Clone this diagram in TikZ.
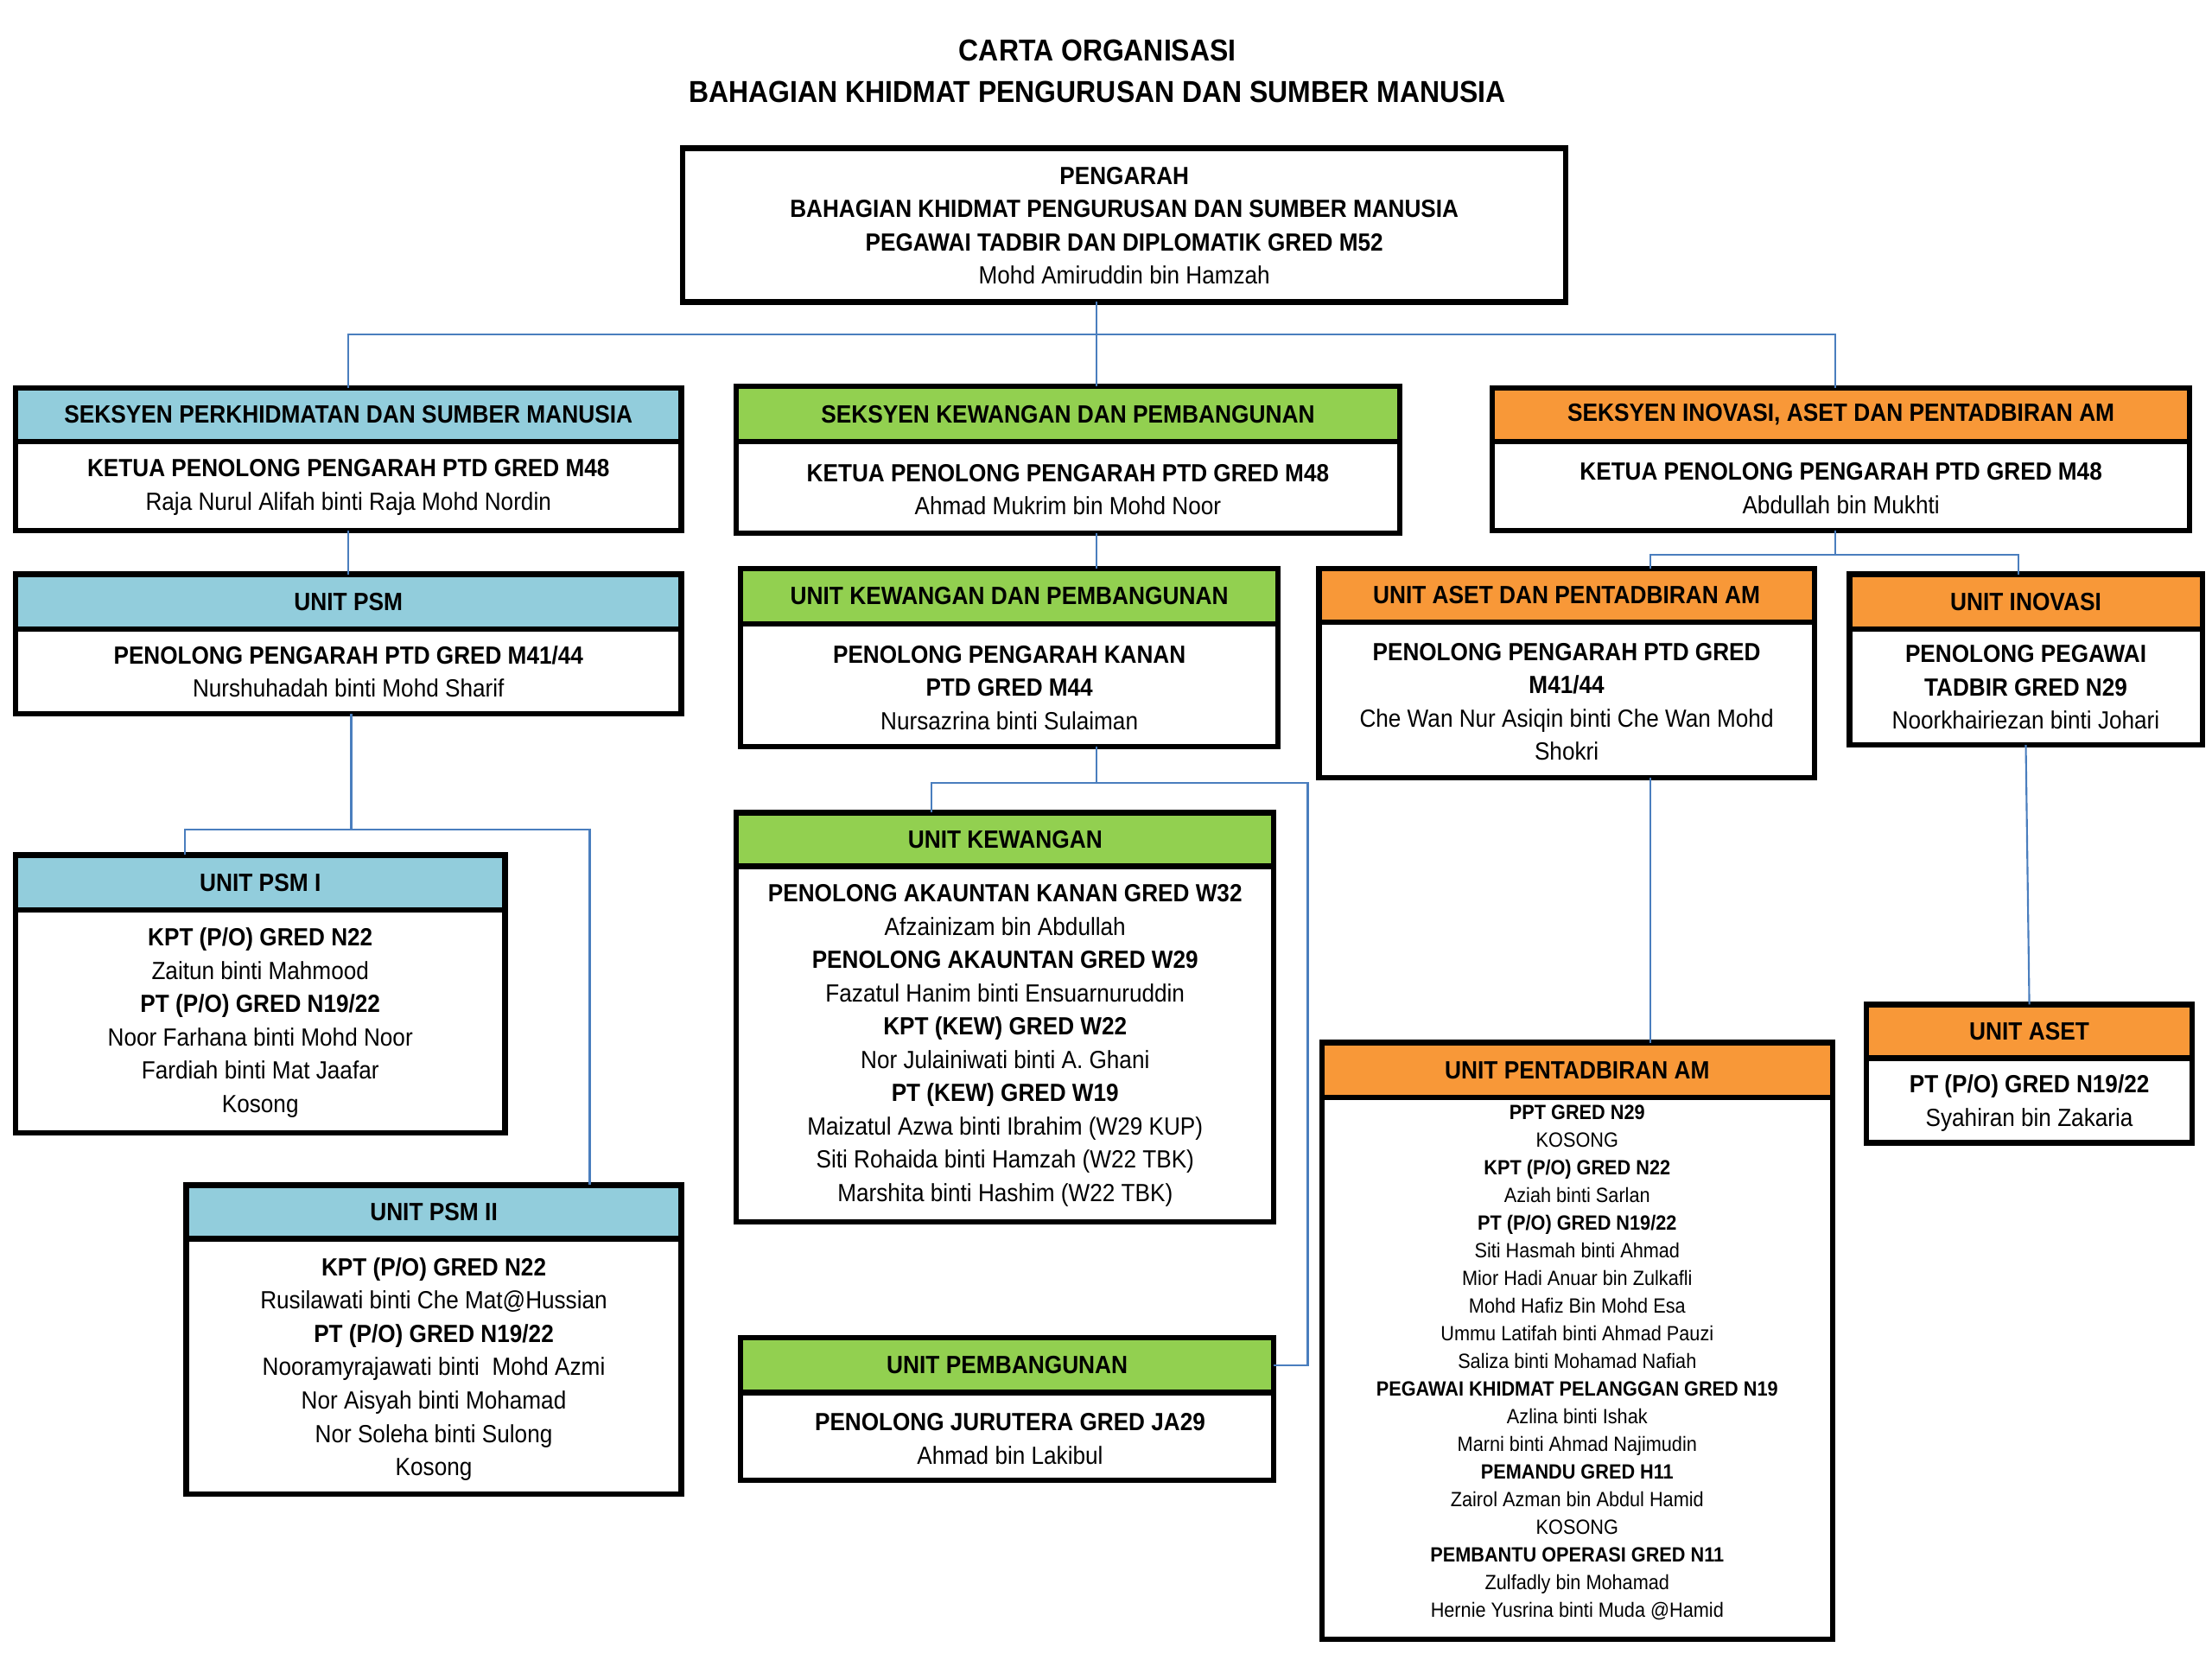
\documentclass[tikz,border=0pt]{standalone}
\usepackage{fontspec}
\setmainfont{Liberation Sans}[FakeStretch=0.91]
\begin{document}
\begin{tikzpicture}[x=1pt,y=-1pt,
  frame/.style={draw=black,line width=3.8pt,rectangle,inner sep=0pt,outer sep=0pt},
  sepline/.style={draw=black,line width=3.8pt},
  headtxt/.style={inner sep=0pt,font=\fontsize{17.7}{22}\selectfont\bfseries},
  bodytxt/.style={inner sep=0pt,align=center,font=\fontsize{17.6}{23.6}\selectfont},
  smalltxt/.style={inner sep=0pt,align=center,font=\fontsize{14.6}{19.6}\selectfont},
  conn/.style={draw=connblue,line width=1.3pt}]
\definecolor{connblue}{RGB}{74,126,190}
\definecolor{hblue}{RGB}{146,205,220}
\definecolor{hgreen}{RGB}{146,208,80}
\definecolor{horange}{RGB}{248,152,56}
\newcommand{\orgbox}[8]{%
  \fill[#7] (#2,#3) rectangle (#4,#6);
  \draw[sepline] (#2,#6) -- (#4,#6);
  \node[frame,minimum width={(#4-#2-2)*1pt},minimum height={(#5-#3-2)*1pt},anchor=center] (#1) at ({(#2+#4)/2},{(#3+#5)/2}) {};
  \node[headtxt] (#1-h) at ({(#2+#4)/2},{(#3+#6)/2+0.5}) {#8};
}
\useasboundingbox (0,0) rectangle (1568,1176);

% title
\node[align=center,inner sep=0pt,font=\fontsize{21.5}{29}\selectfont\bfseries] (title) at (778,50.5)
  {CARTA ORGANISASI\\BAHAGIAN KHIDMAT PENGURUSAN DAN SUMBER MANUSIA};

% top box
\node[frame,minimum width=626pt,minimum height=109pt,anchor=center] (top) at (797,159.5) {};
\node[bodytxt] (top-b) at (797,160) {\textbf{PENGARAH}\\\textbf{BAHAGIAN KHIDMAT PENGURUSAN DAN SUMBER MANUSIA}\\\textbf{PEGAWAI TADBIR DAN DIPLOMATIK GRED M52}\\Mohd Amiruddin bin Hamzah};

% sections
\orgbox{s1}{10}{274}{484}{377}{313}{hblue}{SEKSYEN PERKHIDMATAN DAN SUMBER MANUSIA}
\node[bodytxt] (s1-b) at (247,345.5) {\textbf{KETUA PENOLONG PENGARAH PTD GRED M48}\\Raja Nurul Alifah binti Raja Mohd Nordin};

\orgbox{s2}{521}{273}{993}{379}{313}{hgreen}{SEKSYEN KEWANGAN DAN PEMBANGUNAN}
\node[bodytxt] (s2-b) at (757,347) {\textbf{KETUA PENOLONG PENGARAH PTD GRED M48}\\Ahmad Mukrim bin Mohd Noor};

\orgbox{s3}{1057}{274}{1553}{377}{313}{horange}{SEKSYEN INOVASI, ASET DAN PENTADBIRAN AM}
\node[bodytxt] (s3-b) at (1305,346) {\textbf{KETUA PENOLONG PENGARAH PTD GRED M48}\\Abdullah bin Mukhti};

% units
\orgbox{psm}{10}{406}{484}{507}{446}{hblue}{UNIT PSM}
\node[bodytxt] (psm-b) at (247,476) {\textbf{PENOLONG PENGARAH PTD GRED M41/44}\\Nurshuhadah binti Mohd Sharif};

\orgbox{psmi}{10}{605}{359}{804}{645}{hblue}{UNIT PSM I}
\node[bodytxt] (psmi-b) at (184.5,725) {\textbf{KPT (P/O) GRED N22}\\Zaitun binti Mahmood\\\textbf{PT (P/O) GRED N19/22}\\Noor Farhana binti Mohd Noor\\Fardiah binti Mat Jaafar\\Kosong};

\orgbox{psmii}{131}{839}{484}{1060}{878}{hblue}{UNIT PSM II}
\node[bodytxt] (psmii-b) at (307.5,970.5) {\textbf{KPT (P/O) GRED N22}\\Rusilawati binti Che Mat@Hussian\\\textbf{PT (P/O) GRED N19/22}\\Nooramyrajawati binti\ \ Mohd Azmi\\Nor Aisyah binti Mohamad\\Nor Soleha binti Sulong\\Kosong};

\orgbox{ukp}{524}{402}{907}{530}{442}{hgreen}{UNIT KEWANGAN DAN PEMBANGUNAN}
\node[bodytxt] (ukp-b) at (715.5,487.5) {\textbf{PENOLONG PENGARAH KANAN}\\\textbf{PTD GRED M44}\\Nursazrina binti Sulaiman};

\orgbox{uk}{521}{575}{904}{867}{614}{hgreen}{UNIT KEWANGAN}
\node[bodytxt] (uk-b) at (712.5,741) {\textbf{PENOLONG AKAUNTAN KANAN GRED W32}\\Afzainizam bin Abdullah\\\textbf{PENOLONG AKAUNTAN GRED W29}\\Fazatul Hanim binti Ensuarnuruddin\\\textbf{KPT (KEW) GRED W22}\\Nor Julainiwati binti A. Ghani\\\textbf{PT (KEW) GRED W19}\\Maizatul Azwa binti Ibrahim (W29 KUP)\\Siti Rohaida binti Hamzah (W22 TBK)\\Marshita binti Hashim (W22 TBK)};

\orgbox{up}{524}{947}{904}{1050}{987}{hgreen}{UNIT PEMBANGUNAN}
\node[bodytxt] (up-b) at (716,1020) {\textbf{PENOLONG JURUTERA GRED JA29}\\Ahmad bin Lakibul};

\orgbox{uadpa}{934}{402}{1287}{552}{441}{horange}{UNIT ASET DAN PENTADBIRAN AM}
\node[bodytxt] (uadpa-b) at (1110.5,497.5) {\textbf{PENOLONG PENGARAH PTD GRED}\\\textbf{M41/44}\\Che Wan Nur Asiqin binti Che Wan Mohd\\Shokri};

\orgbox{ui}{1310}{406}{1562}{529}{446}{horange}{UNIT INOVASI}
\node[bodytxt] (ui-b) at (1436,487) {\textbf{PENOLONG PEGAWAI}\\\textbf{TADBIR GRED N29}\\Noorkhairiezan binti Johari};

\orgbox{upa}{936}{738}{1300}{1163}{778}{horange}{UNIT PENTADBIRAN AM}
\node[smalltxt] (upa-b) at (1118,966) {\textbf{PPT GRED N29}\\KOSONG\\\textbf{KPT (P/O) GRED N22}\\Aziah binti Sarlan\\\textbf{PT (P/O) GRED N19/22}\\Siti Hasmah binti Ahmad\\Mior Hadi Anuar bin Zulkafli\\Mohd Hafiz Bin Mohd Esa\\Ummu Latifah binti Ahmad Pauzi\\Saliza binti Mohamad Nafiah\\\textbf{PEGAWAI KHIDMAT PELANGGAN GRED N19}\\Azlina binti Ishak\\Marni binti Ahmad Najimudin\\\textbf{PEMANDU GRED H11}\\Zairol Azman bin Abdul Hamid\\KOSONG\\\textbf{PEMBANTU OPERASI GRED N11}\\Zulfadly bin Mohamad\\Hernie Yusrina binti Muda @Hamid};

\orgbox{ua}{1322}{711}{1555}{811}{750}{horange}{UNIT ASET}
\node[bodytxt] (ua-b) at (1438.5,782) {\textbf{PT (P/O) GRED N19/22}\\Syahiran bin Zakaria};

% junction points
\coordinate (j1) at (777,237);
\coordinate (pj) at (249,588);
\coordinate (pa) at (131,588);
\coordinate (pb) at (418,588);
\coordinate (k1) at (777,390);
\coordinate (k2) at (777,555);
\coordinate (k3) at (660,555);
\coordinate (k4) at (927,555);
\coordinate (k5) at (927,968);
\coordinate (m1) at (1301,393);
\coordinate (m2) at (1170,393);
\coordinate (m3) at (1431,393);

% connectors
\draw[conn] (top.south -| j1) -- (j1);
\draw[conn] (s1.north) |- (j1) -| (s3.north -| m1);
\draw[conn] (j1) -- (s2.north -| j1);
\draw[conn] (s1.south) -- (psm.north);
\draw[conn] (psm.south -| pj) -- (pj);
\draw[conn] (psmi.north -| pa) -- (pa) -- (pb) -- (psmii.north -| pb);
\draw[conn] (s2.south -| k1) -- (ukp.north -| k1);
\draw[conn] (ukp.south -| k2) -- (k2);
\draw[conn] (uk.north -| k3) -- (k3) -- (k4) -- (k5) -- (up.east |- k5);
\draw[conn] (s3.south -| m1) -- (m1);
\draw[conn] (uadpa.north -| m2) -- (m2) -- (m3) -- (ui.north -| m3);
\draw[conn] (uadpa.south -| m2) -- (upa.north -| m2);
\draw[conn] (ui.south) -- (ua.north);
\end{tikzpicture}
\end{document}
